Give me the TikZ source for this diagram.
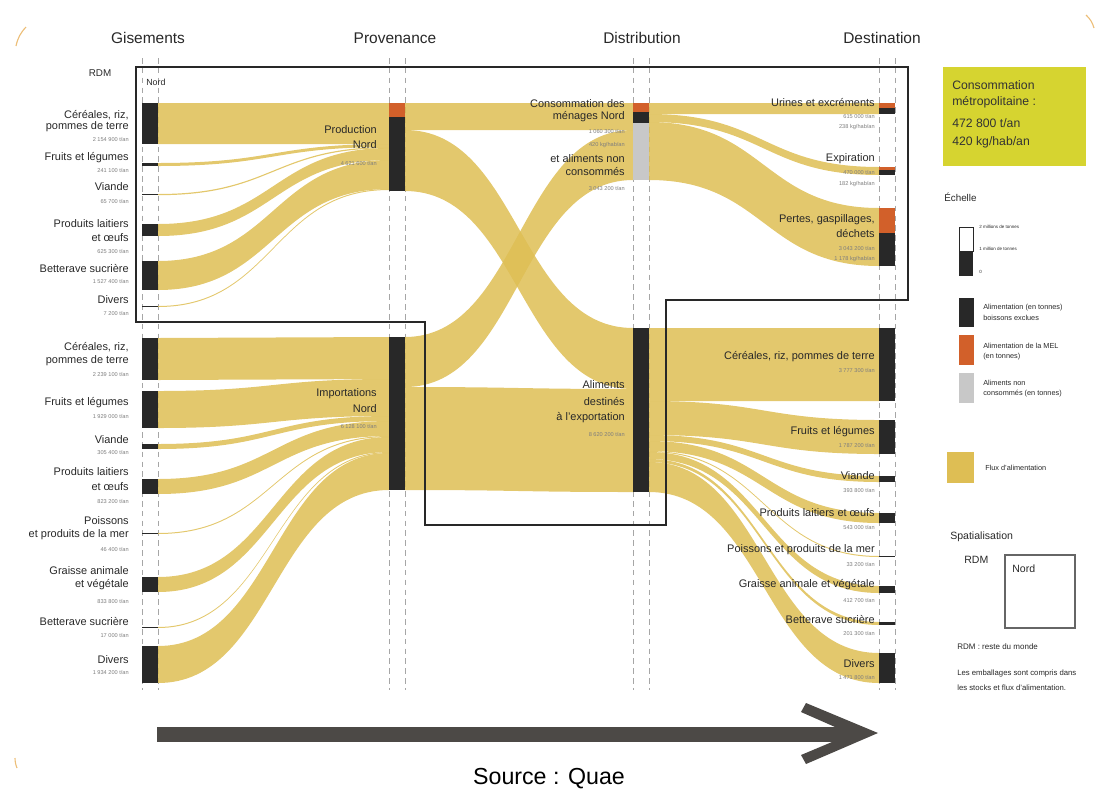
\documentclass[tikz,border=0pt]{standalone}
\usepackage{fontspec}
\setmainfont{Liberation Sans}
\definecolor{fluxc}{RGB}{222,190,84}
\definecolor{barc}{RGB}{40,40,40}
\definecolor{orangec}{RGB}{210,96,42}
\definecolor{grisc}{RGB}{200,200,200}
\definecolor{labc}{RGB}{40,40,40}
\definecolor{valc}{RGB}{125,125,125}
\definecolor{metroc}{RGB}{214,212,48}
\definecolor{flechec}{RGB}{76,73,70}
\definecolor{coinc}{RGB}{236,190,120}
\newcommand{\Flux}[6]{\fill[fluxband] (#1,#2) .. controls ({(#1+#4)/2},#2) and ({(#1+#4)/2},#5) .. (#4,#5) -- (#4,#6) .. controls ({(#1+#4)/2},#6) and ({(#1+#4)/2},#3) .. (#1,#3) -- cycle;}
\newcommand{\Barre}[4][barc]{\fill[#1] (#2,#3) rectangle ({#2+16},#4);}
\tikzset{
  fluxband/.style={fill=fluxc, fill opacity=0.85},
  colonne/.style={draw=gray!70, line width=0.4pt, dash pattern=on 4pt off 3pt},
  cadre/.style={draw=barc, line width=1.4pt, line join=miter},
  titre/.style={text=labc, font=\fontsize{11}{13}\selectfont},
  lab/.style={anchor=east, inner sep=0pt, text=labc, font=\fontsize{7.8}{9}\selectfont},
  val/.style={anchor=east, inner sep=0pt, text=valc, font=\fontsize{4}{5}\selectfont},
  leg/.style={anchor=west, inner sep=0pt, text=labc, font=\fontsize{5.2}{6}\selectfont},
  metro/.style={anchor=west, inner sep=0pt, text=black!80, font=\fontsize{8.7}{10}\selectfont}
}
\begin{document}
\begin{tikzpicture}[x=0.025cm,y=-0.025cm]
\useasboundingbox (0,0) rectangle (1097,798);
\draw[coinc, line width=0.8pt] (26,27) to[bend right=15] (16,46);
\draw[coinc, line width=0.8pt] (1086,15) to[bend left=15] (1094,28);
\draw[coinc, line width=0.8pt] (15,758) to[bend right=10] (17,768);
\foreach \x in {142,158,389,405,633,649,879,895}
  \draw[colonne] (\x,58) -- (\x,690);
\node[titre] (tgis) at (148,38) {Gisements};
\node[titre] (tpro) at (395,38) {Provenance};
\node[titre] (tdis) at (642,38) {Distribution};
\node[titre] (tdes) at (882,38) {Destination};
\node[lab, anchor=center, font=\fontsize{7}{8}\selectfont] (rdm) at (100,73) {RDM};
\node[leg, font=\fontsize{6.3}{7}\selectfont] (nord) at (146,82) {Nord};
% gisements -> provenance
\Flux{158}{103}{144}{389}{103}{144}
\Flux{158}{163}{166}{389}{144}{147}
\Flux{158}{194}{195.2}{389}{147}{148.2}
\Flux{158}{224}{236}{389}{148}{160}
\Flux{158}{261}{290}{389}{160}{189}
\Flux{158}{306}{307}{389}{189}{190}
\Flux{158}{338}{380}{389}{337}{379}
\Flux{158}{391}{428}{389}{379}{416}
\Flux{158}{444}{449}{389}{416}{421}
\Flux{158}{479}{494}{389}{421}{436}
\Flux{158}{533}{534}{389}{436}{437}
\Flux{158}{577}{592}{389}{437}{452}
\Flux{158}{627}{628}{389}{452}{453}
\Flux{158}{646}{683}{389}{453}{490}
% provenance -> distribution
\Flux{405}{103}{130}{633}{103}{130}
\Flux{405}{130}{191}{633}{328}{389}
\Flux{405}{337}{387}{633}{130}{180}
\Flux{405}{387}{490}{633}{389}{492}
% distribution -> destination
\Flux{649}{103}{114}{879}{103}{114}
\Flux{649}{114}{122}{879}{167}{175}
\Flux{649}{122}{180}{879}{208}{266}
\Flux{649}{328}{401}{879}{328}{401}
\Flux{649}{401}{435}{879}{420}{454}
\Flux{649}{435}{441}{879}{476}{482}
\Flux{649}{441}{451}{879}{513}{523}
\Flux{649}{451}{452}{879}{556}{557}
\Flux{649}{452}{459}{879}{586}{593}
\Flux{649}{459}{462}{879}{622}{625}
\Flux{649}{462}{492}{879}{653}{683}
% barres
\Barre{142}{103}{144}
\Barre{142}{163}{166}
\Barre{142}{194}{195.2}
\Barre{142}{224}{236}
\Barre{142}{261}{290}
\Barre{142}{306}{307}
\Barre{142}{338}{380}
\Barre{142}{391}{428}
\Barre{142}{444}{449}
\Barre{142}{479}{494}
\Barre{142}{533}{534}
\Barre{142}{577}{592}
\Barre{142}{627}{628}
\Barre{142}{646}{683}
\Barre[orangec]{389}{103}{117}
\Barre{389}{117}{191}
\Barre{389}{337}{490}
\Barre[orangec]{633}{103}{112}
\Barre{633}{112}{123}
\Barre[grisc]{633}{123}{180}
\Barre{633}{328}{492}
\Barre[orangec]{879}{103}{108}
\Barre{879}{108}{114}
\Barre[orangec]{879}{167}{170}
\Barre{879}{170}{175}
\Barre[orangec]{879}{208}{233}
\Barre{879}{233}{266}
\Barre{879}{328}{401}
\Barre{879}{420}{454}
\Barre{879}{476}{482}
\Barre{879}{513}{523}
\Barre{879}{556}{557}
\Barre{879}{586}{593}
\Barre{879}{622}{625}
\Barre{879}{653}{683}
\draw[cadre] (136,67) -- (908,67) -- (908,300) -- (666,300) -- (666,525) -- (425,525) -- (425,322) -- (136,322) -- cycle;
% gisements nord
\node[lab] (gn1) at (129,115) {Céréales, riz,};
\node[lab] (gn1b) at (129,127) {pommes de terre};
\node[val] (gn1v) at (129,139) {2 154 900 t/an};
\node[lab] (gn2) at (129,158) {Fruits et légumes};
\node[val] (gn2v) at (129,170) {241 100 t/an};
\node[lab] (gn3) at (129,187) {Viande};
\node[val] (gn3v) at (129,201) {65 700 t/an};
\node[lab] (gn4) at (129,224) {Produits laitiers};
\node[lab] (gn4b) at (129,238) {et œufs};
\node[val] (gn4v) at (129,251) {625 300 t/an};
\node[lab] (gn5) at (129,269) {Betterave sucrière};
\node[val] (gn5v) at (129,281) {1 527 400 t/an};
\node[lab] (gn6) at (129,300) {Divers};
\node[val] (gn6v) at (129,313) {7 200 t/an};
% gisements rdm
\node[lab] (gr1) at (129,347) {Céréales, riz,};
\node[lab] (gr1b) at (129,361) {pommes de terre};
\node[val] (gr1v) at (129,374) {2 239 100 t/an};
\node[lab] (gr2) at (129,403) {Fruits et légumes};
\node[val] (gr2v) at (129,416) {1 929 000 t/an};
\node[lab] (gr3) at (129,440) {Viande};
\node[val] (gr3v) at (129,452) {305 400 t/an};
\node[lab] (gr4) at (129,472) {Produits laitiers};
\node[lab] (gr4b) at (129,487) {et œufs};
\node[val] (gr4v) at (129,501) {823 200 t/an};
\node[lab] (gr5) at (129,521) {Poissons};
\node[lab] (gr5b) at (129,535) {et produits de la mer};
\node[val] (gr5v) at (129,549) {46 400 t/an};
\node[lab] (gr6) at (129,571) {Graisse animale};
\node[lab] (gr6b) at (129,585) {et végétale};
\node[val] (gr6v) at (129,601) {833 800 t/an};
\node[lab] (gr7) at (129,622) {Betterave sucrière};
\node[val] (gr7v) at (129,635) {17 000 t/an};
\node[lab] (gr8) at (129,660) {Divers};
\node[val] (gr8v) at (129,672) {1 934 200 t/an};
% provenance
\node[lab] (pn1) at (377,130) {Production};
\node[lab] (pn1b) at (377,145) {Nord};
\node[val] (pn1v) at (377,163) {4 621 600 t/an};
\node[lab] (pi1) at (377,394) {Importations};
\node[lab] (pi1b) at (377,409) {Nord};
\node[val] (pi1v) at (377,426) {6 128 100 t/an};
% distribution
\node[lab] (dc1) at (625,104) {Consommation des};
\node[lab] (dc1b) at (625,117) {ménages Nord};
\node[val] (dc1v) at (625,131) {1 060 300 t/an};
\node[val] (dc1w) at (625,145) {420 kg/hab/an};
\node[lab] (dc2) at (625,159) {et aliments non};
\node[lab] (dc2b) at (625,172) {consommés};
\node[val] (dc2v) at (625,188) {3 043 200 t/an};
\node[lab] (de1) at (625,385) {Aliments};
\node[lab] (de1b) at (625,402) {destinés};
\node[lab] (de1c) at (625,418) {à l'exportation};
\node[val] (de1v) at (625,434) {8 620 200 t/an};
% destination
\node[lab] (ds1) at (875,103) {Urines et excréments};
\node[val] (ds1v) at (875,116) {615 000 t/an};
\node[val] (ds1w) at (875,127) {238 kg/hab/an};
\node[lab] (ds2) at (875,159) {Expiration};
\node[val] (ds2v) at (875,172) {470 000 t/an};
\node[val] (ds2w) at (875,184) {182 kg/hab/an};
\node[lab] (ds3) at (875,220) {Pertes, gaspillages,};
\node[lab] (ds3b) at (875,234) {déchets};
\node[val] (ds3v) at (875,248) {3 043 200 t/an};
\node[val] (ds3w) at (875,259) {1 178 kg/hab/an};
\node[lab] (dx1) at (875,357) {Céréales, riz, pommes de terre};
\node[val] (dx1v) at (875,370) {3 777 300 t/an};
\node[lab] (dx2) at (875,432) {Fruits et légumes};
\node[val] (dx2v) at (875,445) {1 787 200 t/an};
\node[lab] (dx3) at (875,476) {Viande};
\node[val] (dx3v) at (875,490) {393 800 t/an};
\node[lab] (dx4) at (875,513) {Produits laitiers et œufs};
\node[val] (dx4v) at (875,527) {543 000 t/an};
\node[lab] (dx5) at (875,550) {Poissons et produits de la mer};
\node[val] (dx5v) at (875,564) {33 200 t/an};
\node[lab] (dx6) at (875,585) {Graisse animale et végétale};
\node[val] (dx6v) at (875,600) {412 700 t/an};
\node[lab] (dx7) at (875,620) {Betterave sucrière};
\node[val] (dx7v) at (875,633) {201 300 t/an};
\node[lab] (dx8) at (875,664) {Divers};
\node[val] (dx8v) at (875,677) {1 471 800 t/an};
% legende
\fill[metroc] (943,67) rectangle (1086,166);
\node[metro] (m1) at (952,85) {Consommation};
\node[metro] (m2) at (952,102) {métropolitaine :};
\node[metro] (m3) at (952,123) {472 800 t/an};
\node[metro] (m4) at (952,142) {420 kg/hab/an};
\node[leg, font=\fontsize{7}{8}\selectfont] (ech) at (944,197) {Échelle};
\draw[barc, line width=0.6pt] (959,227) rectangle (973,251);
\fill[barc] (959,251) rectangle (973,276);
\node[leg, font=\fontsize{3.2}{4}\selectfont] (e2) at (979,227) {2 millions de tonnes};
\node[leg, font=\fontsize{3.2}{4}\selectfont] (e1) at (979,249) {1 million de tonnes};
\node[leg, font=\fontsize{3.2}{4}\selectfont] (e0) at (979,272) {0};
\fill[barc] (959,298) rectangle (974,327);
\node[leg] (l1) at (983,308) {Alimentation (en tonnes)};
\node[leg] (l1b) at (983,318) {boissons exclues};
\fill[orangec] (959,335) rectangle (974,365);
\node[leg] (l2) at (983,346) {Alimentation de la MEL};
\node[leg] (l2b) at (983,357) {(en tonnes)};
\fill[grisc] (959,373) rectangle (974,403);
\node[leg] (l3) at (983,383) {Aliments non};
\node[leg] (l3b) at (983,394) {consommés (en tonnes)};
\fill[fluxc] (947,452) rectangle (974,483);
\node[leg] (l4) at (985,468) {Flux d'alimentation};
\node[leg, font=\fontsize{7.5}{9}\selectfont] (spa) at (950,537) {Spatialisation};
\node[leg, font=\fontsize{7.5}{9}\selectfont] (srdm) at (964,560) {RDM};
\draw[gray!80!black, line width=0.8pt] (1005,555) rectangle (1075,628);
\node[leg, font=\fontsize{7.5}{9}\selectfont] (snord) at (1012,569) {Nord};
\node[leg, font=\fontsize{5.7}{7}\selectfont] (n1) at (957,647) {RDM : reste du monde};
\node[leg, font=\fontsize{5.5}{7}\selectfont] (n2) at (957,673) {Les emballages sont compris dans};
\node[leg, font=\fontsize{5.5}{7}\selectfont] (n3) at (957,688) {les stocks et flux d'alimentation.};
% fleche
\fill[flechec] (157,727) rectangle (856,742);
\fill[flechec] (806,703) -- (878,733) -- (806,764) -- (801,755) -- (851,734) -- (801,712) -- cycle;
\node[font=\fontsize{16.5}{19}\selectfont] (src) at (549,779) {Source : Quae};
\end{tikzpicture}
\end{document}
